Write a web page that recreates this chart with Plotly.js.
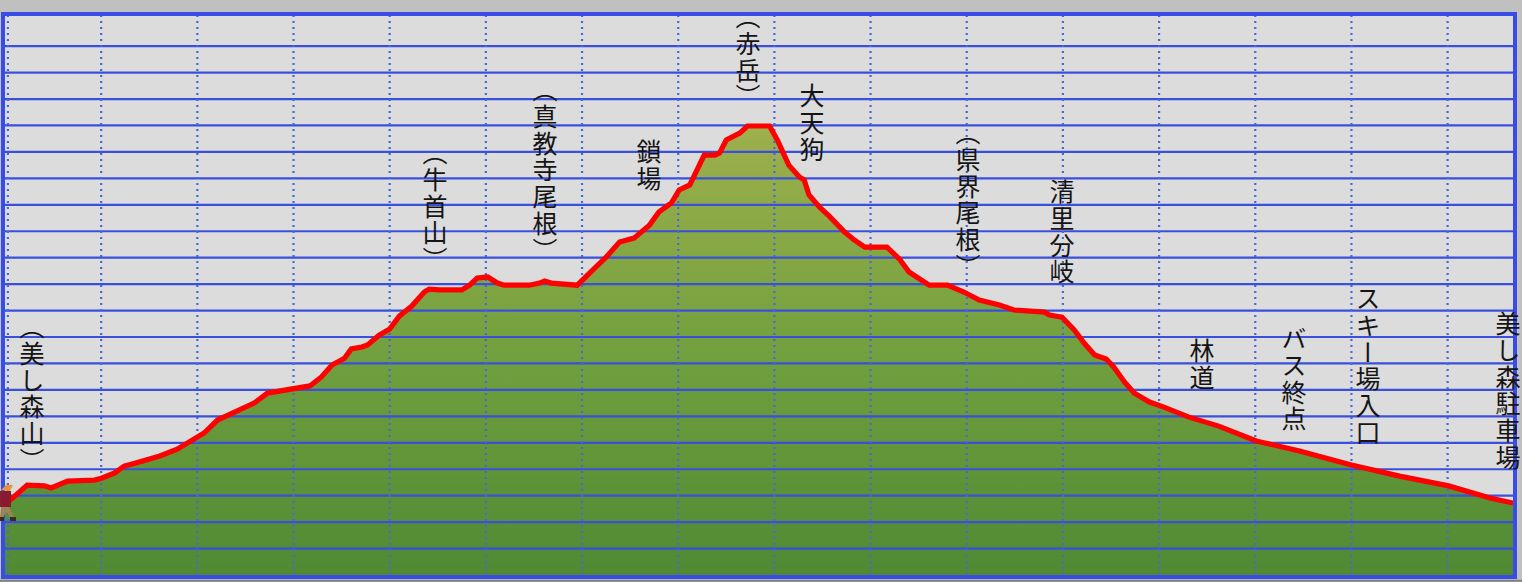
<!DOCTYPE html>
<html><head><meta charset="utf-8">
<script src="https://cdn.plot.ly/plotly-3.0.1.min.js"></script>
<style>html,body{margin:0;padding:0;background:#c0c0c0;overflow:hidden}#c{width:1522px;height:582px}
.annotation-text{writing-mode:vertical-rl;letter-spacing:1.8px}</style>
</head><body><div id="c"></div>
<script>
// distance (km) and elevation (m) read from the profile
const distance = [0,0.08,0.23,0.41,0.48,0.59,0.65,0.93,1.01,1.14,1.24,1.35,1.61,1.79,1.92,2.07,2.21,2.39,2.59,2.73,3.01,3.17,3.29,3.40,3.53,3.60,3.71,3.77,3.89,4.00,4.10,4.23,4.36,4.41,4.52,4.75,4.83,4.91,5.02,5.12,5.19,5.45,5.56,5.61,5.68,5.87,5.95,6.11,6.25,6.39,6.54,6.70,6.80,6.93,7.01,7.12,7.22,7.27,7.38,7.43,7.50,7.64,7.72,7.95,8.03,8.15,8.26,8.31,8.36,8.47,8.57,8.73,8.83,8.94,9.17,9.30,9.40,9.56,9.61,9.80,9.97,10.13,10.34,10.49,10.81,10.86,10.99,11.12,11.22,11.33,11.45,11.53,11.64,11.74,11.90,12.05,12.31,12.62,13.01,13.46,14.00,14.50,15.01,15.44,15.68];
const elevation = [1470,1491,1540,1537,1529,1544,1555,1559,1567,1586,1612,1623,1650,1676,1707,1737,1786,1816,1850,1888,1903,1915,1949,1994,2020,2055,2062,2070,2107,2130,2179,2217,2270,2281,2278,2278,2296,2323,2327,2304,2296,2296,2304,2312,2304,2300,2296,2353,2402,2459,2474,2523,2573,2607,2656,2675,2750,2788,2788,2796,2845,2871,2898,2898,2845,2750,2705,2694,2637,2591,2557,2497,2467,2440,2440,2395,2346,2305,2296,2296,2270,2240,2221,2202,2194,2183,2175,2126,2077,2032,2017,1986,1930,1888,1854,1835,1797,1763,1707,1669,1616,1574,1537,1491,1472];
const elevTicks = [1300,1400,1500,1600,1700,1800,1900,2000,2100,2200,2300,2400,2500,2600,2700,2800,2900,3000,3100,3200];
const distTicks = [0.03,1,2,3,4,5,6,7,8,9,10,11,12,13,14,15];
const labelTexts = ["（美し森山）","（牛首山）","（真教寺尾根）","鎖場","（赤岳）","大天狗","（県界尾根）","清里分岐","林道","バス終点","スキー場入口","美し森駐車場"];
const labelDist = [0.28,4.47,5.61,6.70,7.73,8.39,10.01,10.99,12.45,13.40,14.17,15.63];
const labelTop = [2119,2777,3015,2852,3291,3064,2852,2701,2100,2145,2296,2202];

const xMax = 15.68, yMin = 1200, yMax = 3314;
const annotations = labelTexts.map((t, i) => ({
  x: labelDist[i], y: labelTop[i], xref: 'x', yref: 'y', text: t, showarrow: false,
  xanchor: 'center', yanchor: 'top', borderpad: 0, yshift: t.startsWith('（') ? 19 : 0,
  font: {family: '"Noto Sans CJK JP"', size: 25, color: '#151515'}
}));

const hx = [], hy = [], vx = [], vy = [];
elevTicks.forEach(e => { hx.push(0, xMax, null); hy.push(e, e, null); });
distTicks.forEach(d => { vx.push(d, d, null); vy.push(yMin, yMax, null); });

const hiker = 'data:image/svg+xml;utf8,' + encodeURIComponent(
 '<svg xmlns="http://www.w3.org/2000/svg" viewBox="0 0 16 38">' +
 '<path d="M1 6 L6 1 L13 1 L10 7 Z" fill="#e8963c"/>' +
 '<rect x="0" y="7" width="11" height="16" fill="#8a1b2e"/>' +
 '<path d="M1 23 L9 23 L14 34 L11 34 L6 28 L3 34 L0 34 Z" fill="#9c8456"/>' +
 '<rect x="0" y="33" width="4" height="4" fill="#3a2a20"/><rect x="10" y="33" width="6" height="4" fill="#3a2a20"/></svg>');

const traces = [
 {x: distance.concat([xMax, 0]), y: elevation.concat([yMin, yMin]), mode: 'none', fill: 'toself',
  fillgradient: {type: 'vertical', start: yMin, stop: 2898, colorscale: [[0, '#4f8a33'], [0.5, '#72a03e'], [1, '#9db04c']]},
  hoverinfo: 'skip'},
 {x: hx, y: hy, mode: 'lines', line: {color: '#3a50dc', width: 2.2}, hoverinfo: 'skip'},
 {x: vx, y: vy, mode: 'lines', line: {color: '#4a66dc', width: 2.2, dash: '2px,4px'}, hoverinfo: 'skip'},
 {x: distance, y: elevation, mode: 'lines', line: {color: '#ff0000', width: 5.2, shape: 'linear'}, hoverinfo: 'skip'}
];
const layout = {
 width: 1522, height: 582, showlegend: false, paper_bgcolor: '#c0c0c0', plot_bgcolor: '#dcdcdc',
 margin: {l: 5, r: 9, t: 16, b: 7, pad: 0},
 xaxis: {range: [0, xMax], showgrid: false, zeroline: false, showticklabels: false, ticks: '', showline: true, mirror: true, linecolor: '#3a4ce8', linewidth: 3.5, fixedrange: true},
 yaxis: {range: [yMin, yMax], showgrid: false, zeroline: false, showticklabels: false, ticks: '', showline: true, mirror: true, linecolor: '#3a4ce8', linewidth: 3.5, fixedrange: true},
 annotations,
 images: [{source: hiker, xref: 'paper', yref: 'paper', x: -0.0033, y: 0.1628, sizex: 0.0106, sizey: 0.068, sizing: 'stretch', xanchor: 'left', yanchor: 'top', layer: 'above'}],
 shapes: [
  {type: 'rect', xref: 'paper', yref: 'paper', x0: -0.0022, x1: 1.0022, y0: -0.0035, y1: 1.0055, line: {color: '#e6e6e6', width: 1.5}, layer: 'below'},
  {type: 'line', xref: 'paper', yref: 'paper', x0: -0.004, x1: 1.006, y0: -0.0105, y1: -0.0105, line: {color: '#808080', width: 2}, layer: 'below'}
 ]
};
Plotly.newPlot('c', traces, layout, {displayModeBar: false, responsive: false});
</script></body></html>
